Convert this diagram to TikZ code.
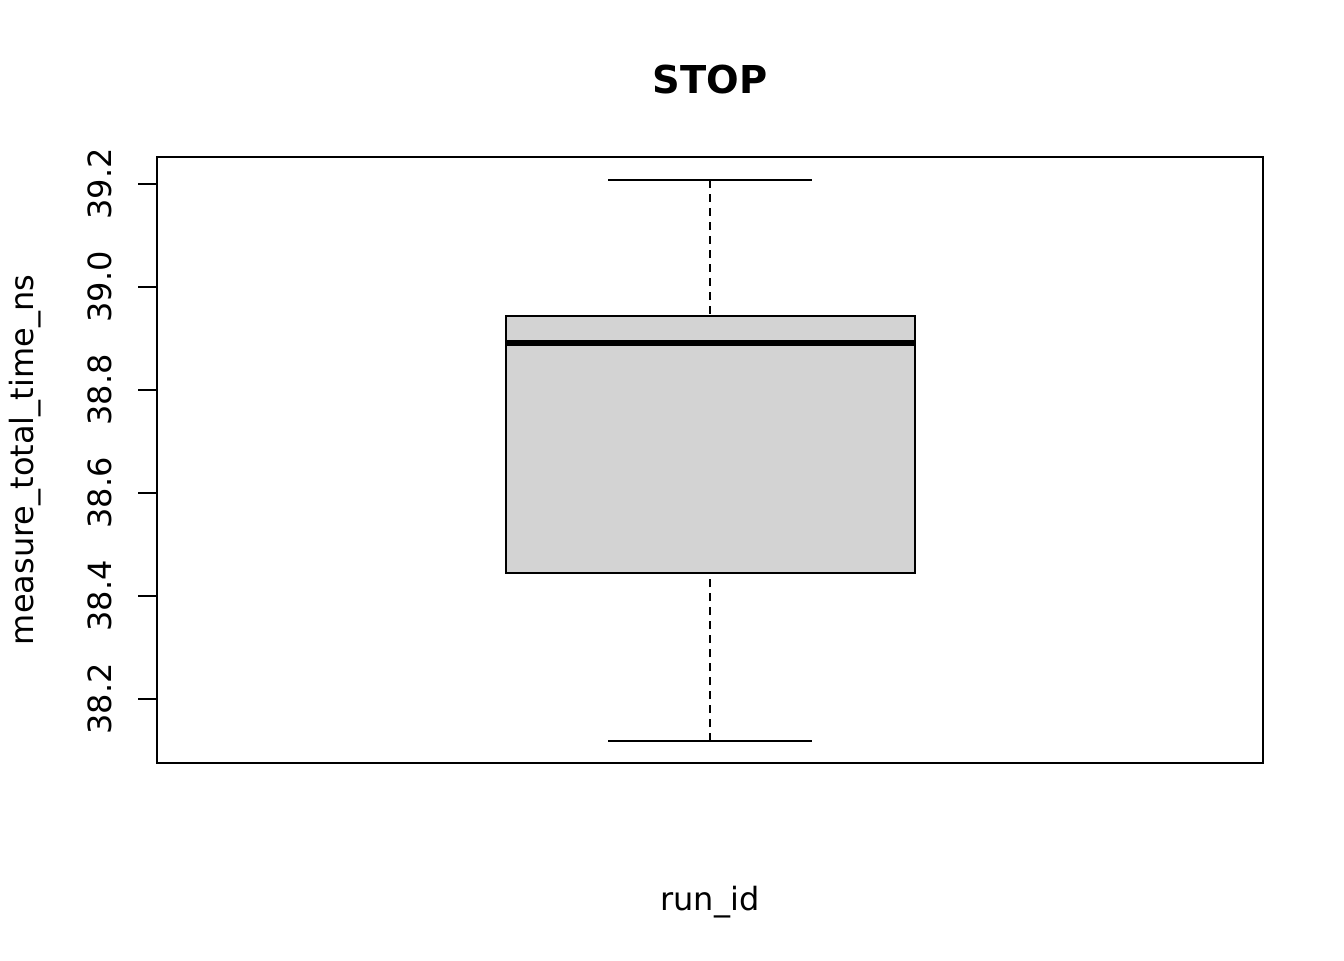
\documentclass[tikz,border=0pt]{standalone}
\usepackage{fontspec}
\setmainfont{DejaVu Sans}
\begin{document}
\begin{tikzpicture}[x=0.75pt,y=-0.75pt,
  axisline/.style={line width=1.5pt},
  ticklab/.style={font=\fontsize{24pt}{28pt}\selectfont, rotate=90, inner sep=0pt, anchor=center},
  lab/.style={font=\fontsize{24pt}{28pt}\selectfont, inner sep=0pt},
  whisk/.style={line width=1.5pt, dash pattern=on 6pt off 4.5pt},
  capline/.style={line width=1.5pt}]
\useasboundingbox (0,0) rectangle (1344,960);
\fill[white] (0,0) rectangle (1344,960);
% plot frame
\draw[axisline] (157,157) rectangle (1263,763);
% box
\coordinate (q1l) at (506,573);
\coordinate (q3r) at (915,316);
\filldraw[fill={rgb,255:red,211;green,211;blue,211}, line width=1.5pt] (q1l) rectangle (q3r);
\draw[line width=4pt] (506,343) -- (915,343);
% whiskers
\coordinate (wt) at (710,180);
\coordinate (wb) at (710,741);
\coordinate (bt) at (710,316);
\coordinate (bb) at (710,573);
\draw[whisk] (wt) -- (bt);
\draw[whisk] (wb) -- (bb);
\draw[capline] (608,180) -- (812,180);
\draw[capline] (608,741) -- (812,741);
% y axis ticks and labels
\foreach \v/\y in {39.2/184, 39.0/287, 38.8/390, 38.6/493, 38.4/596, 38.2/699} {
  \draw[axisline] (138,\y) -- (157,\y);
  \node[ticklab] at (100,\y) {\v};
}
% titles
\node[lab, font=\fontsize{28.8pt}{32pt}\selectfont\bfseries] (title) at (710,80) {STOP};
\node[lab] (xlab) at (710,902) {run\_id};
\node[lab, rotate=90] (ylab) at (25,460) {measure\_total\_time\_ns};
\end{tikzpicture}
\end{document}
